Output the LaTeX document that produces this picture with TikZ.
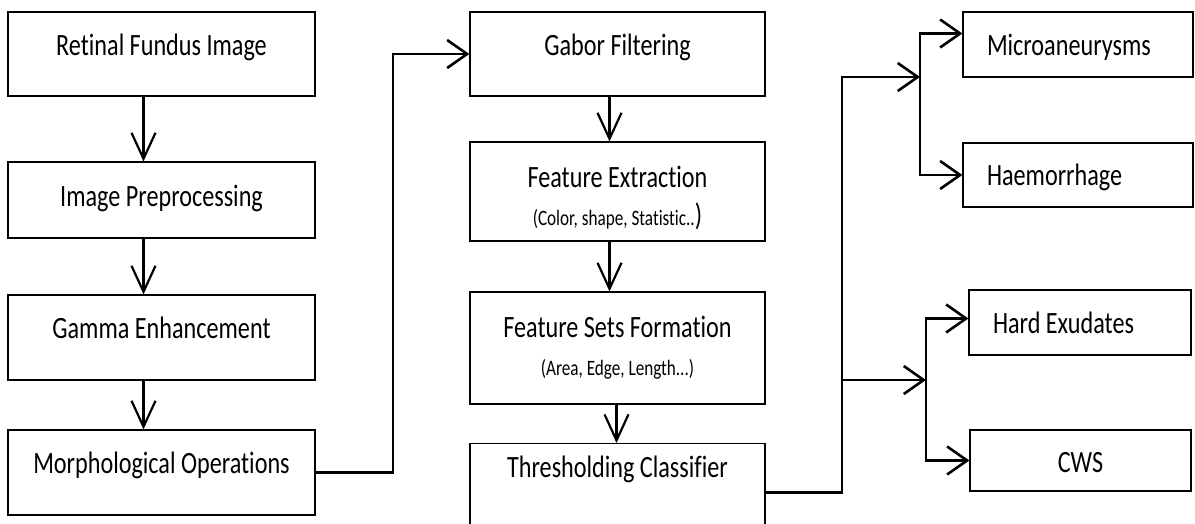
\documentclass[tikz,border=0pt]{standalone}
\usepackage{fontspec}
\setmainfont{Carlito}
\newfontfamily\boxfont{Carlito}[FakeStretch=0.78, Ligatures=NoCommon]
\usetikzlibrary{arrows.meta}

\begin{document}
\begin{tikzpicture}[x=1pt, y=-1pt,
        box/.style={draw, line width=1.2pt, inner sep=0pt, font=\boxfont\fontsize{31}{36}\selectfont},
        varrow/.style={line width=2.2pt, -{Straight Barb[length=26pt,width=24pt]}},
        harrow/.style={line width=2.6pt, -{Straight Barb[length=20pt,width=28pt]}}]
        \useasboundingbox (0,0) rectangle (1195,523);
        \node[box, minimum width=307pt, minimum height=84pt, text height=23pt, text depth=21pt] (retina) at (161.5,54) {Retinal Fundus Image};
        \node[box, minimum width=307pt, minimum height=76pt, text height=23pt, text depth=11pt] (prep) at (161.5,200) {Image Preprocessing};
        \node[box, minimum width=307pt, minimum height=85pt, text height=23pt, text depth=21pt] (gamma) at (161.5,337.5) {Gamma Enhancement};
        \node[box, minimum width=307pt, minimum height=85pt, text height=23pt, text depth=21pt] (morph) at (161.5,472.5) {Morphological Operations};
        \node[box, minimum width=295pt, minimum height=84pt, text height=23pt, text depth=21pt] (gabor) at (617.5,54) {Gabor Filtering};
        \node[box, minimum width=295pt, minimum height=99pt, align=center] (featext) at (617.5,191.5)
            {\rule{0pt}{34pt}Feature Extraction\\[2pt]{\fontsize{22}{26}\selectfont(Color, shape, Statistic..{\fontsize{31}{26}\selectfont)}}};
        \node[box, minimum width=295pt, minimum height=112pt, align=center] (featsets) at (617.5,348)
            {Feature Sets Formation\\[2pt]{\fontsize{22}{26}\selectfont(Area, Edge, Length...)}};
        \node[box, anchor=north, minimum width=295pt, text height=22pt, text depth=62pt, inner ysep=12pt] (thresh) at (617.5,443) {Thresholding Classifier};
        \node[box, text width=182pt, inner xsep=24pt, minimum height=65pt, align=flush left, text height=28pt, text depth=7pt] (micro) at (1078,44.5) {Microaneurysms};
        \node[box, text width=182pt, inner xsep=24pt, minimum height=64pt, align=flush left, text height=27pt, text depth=7pt] (haem) at (1078,175) {Haemorrhage};
        \node[box, text width=174pt, inner xsep=24pt, minimum height=65pt, align=flush left, text height=28pt, text depth=7pt] (hard) at (1080,322.5) {Hard Exudates};
        \node[box, minimum width=221pt, minimum height=61pt, text height=31pt, text depth=7pt] (cws) at (1080.5,460.5) {CWS};
        \coordinate (m1) at (393,0);
        \coordinate (t1) at (842,0);
        \coordinate (b1) at (920,77);
        \coordinate (b2) at (926,380);
        \draw[varrow] ([xshift=-18pt]retina.south) -- ([xshift=-18pt]prep.north);
        \draw[varrow] ([xshift=-18pt]prep.south) -- ([xshift=-18pt]gamma.north);
        \draw[varrow] ([xshift=-18pt]gamma.south) -- ([xshift=-18pt]morph.north);
        \draw[harrow] (morph.east) -| (m1 |- gabor.west) -- (gabor.west);
        \draw[varrow] ([xshift=-8pt]gabor.south) -- ([xshift=-8pt]featext.north);
        \draw[varrow] ([xshift=-8pt]featext.south) -- ([xshift=-8pt]featsets.north);
        \draw[varrow] ([xshift=-1pt]featsets.south) -- ([xshift=-1pt]thresh.north);
        \draw[harrow] ([yshift=5pt]thresh.east) -| (t1 |- b1) -- (b1);
        \draw[harrow] (t1 |- b2) -- (b2);
        \draw[harrow] (b1) |- ([yshift=11pt]micro.west);
        \draw[harrow] (b1) |- (haem.west);
        \draw[harrow] (b2) |- ([yshift=4pt]hard.west);
        \draw[harrow] (b2) |- (cws.west);
    \end{tikzpicture}
\end{document}
